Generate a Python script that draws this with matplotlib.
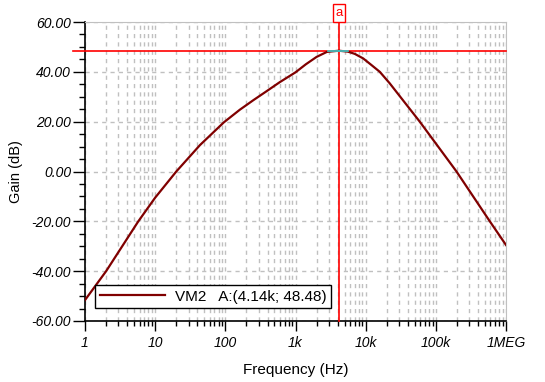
import matplotlib
matplotlib.use('Agg')
import matplotlib.pyplot as plt
from matplotlib.ticker import FixedLocator, LogLocator, NullFormatter, MultipleLocator

plt.rcParams['font.family'] = ['Liberation Sans', 'DejaVu Sans']

# readings from the reference (Hz, dB)
freq = [1, 2, 5.75, 10, 20, 43.5, 95, 161, 250, 386, 600, 1000, 1400, 2000, 2800,
        4140, 5600, 7000, 9200, 12000, 15900, 22000, 59000, 197000, 588000, 1e6]
gain = [-51.6, -40, -20, -10.5, 0, 10.6, 19.7, 24.8, 28.6, 32.2, 35.9, 39.8, 43.0, 46, 48.0,
        48.48, 48.1, 47.2, 45.4, 42.8, 40, 35.4, 20, 0, -20, -29.5]

x_ticks = [1, 10, 100, 1e3, 1e4, 1e5, 1e6]
x_labels = ['1', '10', '100', '1k', '10k', '100k', '1MEG']
y_ticks = [-60, -40, -20, 0, 20, 40, 60]

cursor_f = 4140
cursor_db = 48.48
legend_label = 'VM2   A:(4.14k; 48.48)'

fig = plt.figure(figsize=(5.45, 3.82), dpi=100)
ax = fig.add_axes([85 / 545, 1 - 321 / 382, 421 / 545, 299 / 382])

grid_kw = dict(color='#c0c0c0', linestyle=(0, (3, 3)), linewidth=1)
ax.set_xscale('log')
ax.set_xlim(1, 1e6)
ax.set_ylim(-60, 60)

ax.xaxis.set_major_locator(FixedLocator(x_ticks))
ax.set_xticklabels(x_labels)
ax.xaxis.set_minor_locator(LogLocator(base=10, subs=range(2, 10), numticks=20))
ax.xaxis.set_minor_formatter(NullFormatter())
ax.yaxis.set_major_locator(FixedLocator(y_ticks))
ax.set_yticklabels(['%.2f' % v for v in y_ticks])
ax.yaxis.set_minor_locator(MultipleLocator(5))

ax.grid(True, which='both', axis='x', **grid_kw)
ax.grid(True, which='major', axis='y', **grid_kw)
ax.set_axisbelow(True)

for lbl in ax.get_xticklabels() + ax.get_yticklabels():
    lbl.set_fontstyle('italic')
    lbl.set_fontsize(10)
ax.tick_params(axis='y', which='major', direction='out', length=9, width=1, pad=1)
ax.tick_params(axis='y', which='minor', direction='out', length=4.5, width=1)
ax.tick_params(axis='x', which='major', direction='out', length=7.5, width=1, pad=3)
ax.tick_params(axis='x', which='minor', direction='out', length=3.8, width=1)

for s in ['top', 'right']:
    ax.spines[s].set_color('#c0c0c0')
for s in ['left', 'bottom']:
    ax.spines[s].set_color('black')
    ax.spines[s].set_linewidth(1.2)

# cursor
ax.axhline(cursor_db, xmin=-12 / 421, xmax=1, color='red', linewidth=1.2, clip_on=False, zorder=3)
ax.axvline(cursor_f, ymin=0, ymax=1.01, color='red', linewidth=1.2, clip_on=False, zorder=3)
ax.plot([cursor_f / 1.43, cursor_f * 1.35], [cursor_db, cursor_db], color='#40d0d0', linewidth=1.2, zorder=5)

ax.plot(freq, gain, color='#800000', linewidth=1.6, label=legend_label, zorder=4)

ax.annotate('a', xy=(cursor_f, 1.0), xycoords=('data', 'axes fraction'),
            xytext=(0, 6.5), textcoords='offset points', ha='center', va='center',
            color='red', fontsize=9.5,
            bbox=dict(boxstyle='square,pad=0.2', facecolor='white', edgecolor='red', linewidth=1))

ax.set_xlabel('Frequency (Hz)', fontsize=11, labelpad=10)
ax.set_ylabel('Gain (dB)', fontsize=10.5, labelpad=6)

leg = ax.legend(loc='lower left', bbox_to_anchor=(0.024, 0.043), fontsize=11,
                frameon=True, fancybox=False, edgecolor='black', framealpha=1,
                handlelength=4.3, borderpad=0.3, borderaxespad=0, handletextpad=0.6)
leg.get_frame().set_linewidth(1)

fig.savefig('out.png', dpi=100)
